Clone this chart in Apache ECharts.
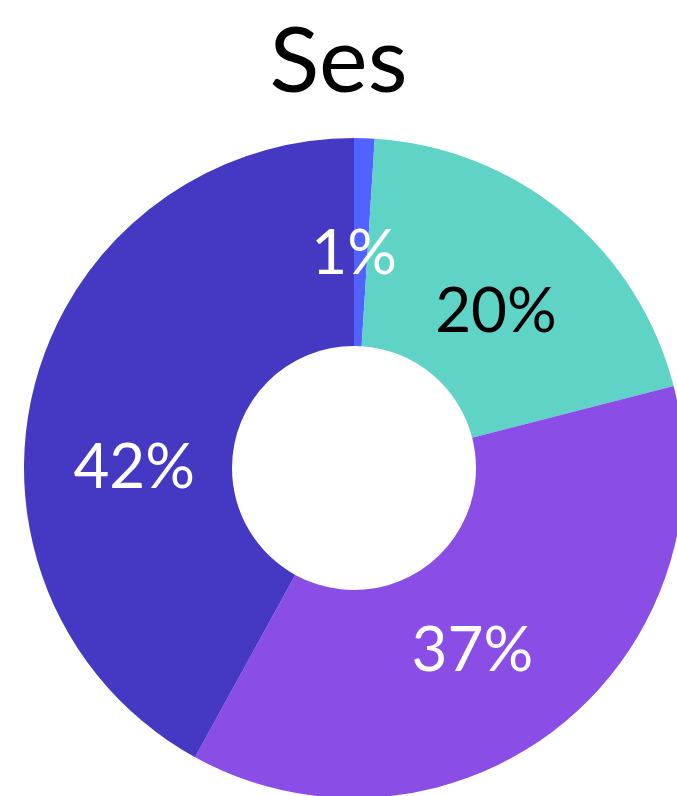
<!DOCTYPE html>
<html>
<head>
<meta charset="utf-8">
<script src="https://cdn.jsdelivr.net/npm/echarts@6/dist/echarts.min.js"></script>
<style>
html,body{margin:0;padding:0;background:#fff;}
#chart{width:677px;height:796px;}
</style>
</head>
<body>
<div id="chart"></div>
<script>
const titleText = "Ses";
const categories = ["A", "B", "C", "D"];
const values = [1, 20, 37, 42];
const colors = ["#5262FF", "#5ED3C6", "#8A4DE6", "#4539C4"];
const labelColors = ["#ffffff", "#000000", "#ffffff", "#ffffff"];
const labelOffsets = [[-7, 15], [-4, 20], [-22, 2], [2, 57]];

const chart = echarts.init(document.getElementById('chart'));
chart.setOption({
  animation: false,
  title: {
    text: titleText,
    left: 'center',
    top: 11,
    textStyle: { fontFamily: 'Lato', fontWeight: 'normal', fontSize: 92, color: '#000' }
  },
  series: [{
    type: 'pie',
    center: [354, 468],
    radius: [122, 330],
    startAngle: 90,
    clockwise: true,
    avoidLabelOverlap: false,
    itemStyle: { borderWidth: 0 },
    label: {
      show: true,
      position: 'inside',
      formatter: p => p.value + '%',
      fontFamily: 'Lato',
      fontSize: 62,
      fontWeight: 'normal'
    },
    labelLine: { show: false },
    data: categories.map((c, i) => ({
      name: c,
      value: values[i],
      itemStyle: { color: colors[i] },
      label: { color: labelColors[i], offset: labelOffsets[i] }
    }))
  }]
});
</script>
</body>
</html>
